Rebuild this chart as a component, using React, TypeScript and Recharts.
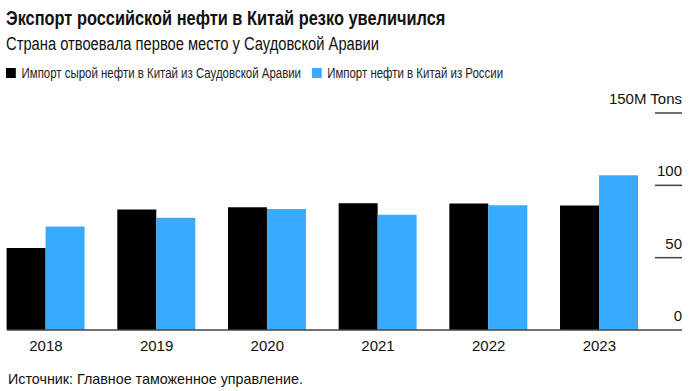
import { BarChart, Bar, XAxis, YAxis, Legend } from "recharts";

const YEARS = ["2018", "2019", "2020", "2021", "2022", "2023"];
const SAUDI = [56.7, 83.3, 84.9, 87.6, 87.5, 86.0];
const RUSSIA = [71.5, 77.6, 83.6, 79.6, 86.2, 107.0];
const Y_TICKS = [0, 50, 100, 150];

const SAUDI_NAME = "Импорт сырой нефти в Китай из Саудовской Аравии";
const RUSSIA_NAME = "Импорт нефти в Китай из России";
const LEGEND_ORDER = ["saudi", "russia"];

const BLUE = "#38aaff";
const FONT = "'Liberation Sans', Arial, sans-serif";
// the original type is a condensed grotesque, squeeze Liberation Sans to match
const SQUEEZE = 0.818;

const data = YEARS.map((year, i) => ({ year, saudi: SAUDI[i], russia: RUSSIA[i] }));

function YTick(props: any) {
  const { x, y, payload } = props;
  const px = Number(x);
  const py = Number(y);
  const label = payload.value === 150 ? "150M Tons" : String(payload.value);
  return (
    <g>
      {payload.value !== 0 && <rect x={px - 27} y={py - 0.75} width={27} height={1.5} fill="#444" />}
      <text x={px} y={py - 9} textAnchor="end" fontSize={15} fill="#111" fontFamily={FONT}>
        {label}
      </text>
    </g>
  );
}

function LegendContent(props: any) {
  const items = [...(props.payload || [])].sort(
    (a: any, b: any) => LEGEND_ORDER.indexOf(a.dataKey) - LEGEND_ORDER.indexOf(b.dataKey)
  );
  return (
    <div
      style={{
        display: "flex",
        alignItems: "center",
        fontFamily: FONT,
        fontSize: 14,
        color: "#222",
        height: 18,
        whiteSpace: "nowrap",
        transform: `scaleX(${SQUEEZE})`,
        transformOrigin: "left center",
      }}
    >
      {items.map((it: any, i: number) => (
        <div key={i} style={{ display: "flex", alignItems: "center", marginRight: 13 }}>
          <span style={{ display: "inline-block", width: 12, height: 10, background: it.color, marginRight: 7 }} />
          <span>{it.value}</span>
        </div>
      ))}
    </div>
  );
}

export default function App() {
  const squeezed = { transform: `scaleX(${SQUEEZE})`, transformOrigin: "left center", whiteSpace: "nowrap" as const };
  return (
    <div style={{ position: "absolute", left: 0, top: 0, width: 695, height: 391, background: "#fff", fontFamily: FONT }}>
      <div style={{ position: "absolute", left: 6, top: 7, fontSize: 20, fontWeight: 700, color: "#111", ...squeezed }}>
        Экспорт российской нефти в Китай резко увеличился
      </div>
      <div style={{ position: "absolute", left: 6, top: 34, fontSize: 18, color: "#111", ...squeezed }}>
        Страна отвоевала первое место у Саудовской Аравии
      </div>
      <BarChart
        width={695}
        height={391}
        data={data}
        margin={{ top: 95, right: 12, bottom: 31, left: 7 }}
        barGap={0}
        barSize={39}
      >
        <Legend
          verticalAlign="top"
          align="left"
          height={18}
          content={<LegendContent />}
          wrapperStyle={{ top: 64, left: 6 }}
        />
        <XAxis
          dataKey="year"
          tickLine={false}
          tickSize={0}
          tickMargin={10}
          height={30}
          padding={{ left: -16.4, right: 27.3 }}
          axisLine={{ stroke: "#444", strokeWidth: 1.5 }}
          tick={{ fontSize: 15, fill: "#111", fontFamily: FONT }}
        />
        <YAxis
          orientation="right"
          domain={[0, 150]}
          ticks={Y_TICKS}
          width={1}
          axisLine={false}
          tickLine={false}
          tickSize={0}
          tickMargin={0}
          tick={<YTick />}
        />
        <Bar dataKey="saudi" name={SAUDI_NAME} fill="#000" isAnimationActive={false} />
        <Bar dataKey="russia" name={RUSSIA_NAME} fill={BLUE} isAnimationActive={false} />
      </BarChart>
      <div style={{ position: "absolute", left: 8, top: 371, fontSize: 14.3, color: "#111", whiteSpace: "nowrap" }}>
        Источник: Главное таможенное управление.
      </div>
    </div>
  );
}
